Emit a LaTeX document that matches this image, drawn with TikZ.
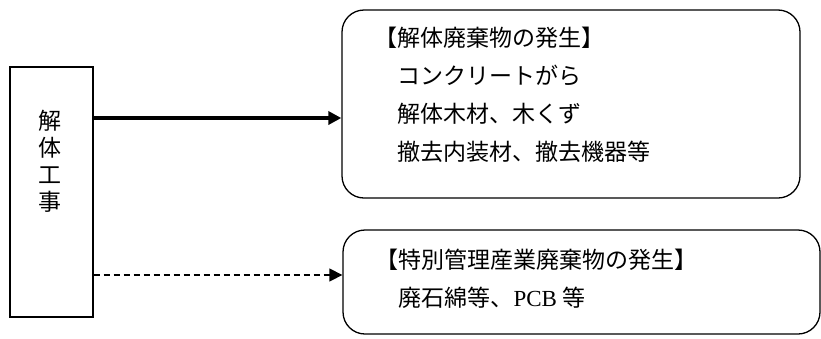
\documentclass[tikz,border=0pt]{standalone}
\usepackage{fontspec}
\setmainfont{Noto Sans CJK JP}
\newfontfamily\latinfont{Liberation Serif}
\usetikzlibrary{positioning}
\usetikzlibrary{arrows.meta}

\begin{document}
\begin{tikzpicture}[x=1pt, y=-1pt,
    stepbox/.style={draw, line width=1.3pt, rectangle, inner sep=0pt},
    wastebox/.style={draw, line width=1.3pt, rectangle, rounded corners=22pt, inner sep=0pt},
    wastetext/.style={anchor=north west, inner sep=0pt, align=left,
      font=\fontsize{23}{38}\selectfont},
    flow/.style={line width=4pt, -{Triangle[length=13pt, width=13pt]}},
    specialflow/.style={line width=1.3pt, dashed, dash pattern=on 6pt off 4pt,
      -{Triangle[length=13pt, width=13pt]}}]

    \useasboundingbox (0,0) rectangle (821,338);

    % Define nodes
    \node[stepbox, minimum width=83pt, minimum height=250pt] (kouji) at (51.5,192) {};
    \node[align=center, inner sep=0pt, font=\fontsize{23}{27}\selectfont] (koujilabel) at (50,161.5) {解\\体\\工\\事};
    \node[wastebox, minimum width=458pt, minimum height=188pt] (haiki) at (571,104) {};
    \node[wastetext, below right=17pt and 33pt of haiki.north west] (haikitext)
      {【解体廃棄物の発生】\\　コンクリートがら\\　解体木材、木くず\\　撤去内装材、撤去機器等};
    \node[wastebox, minimum width=477pt, minimum height=104pt] (tokubetsu) at (581.5,282) {};
    \node[wastetext, below right=19pt and 33pt of tokubetsu.north west] (tokubetsutext)
      {【特別管理産業廃棄物の発生】\\　廃石綿等、{\latinfont PCB} 等};

    % Connect the nodes
    \coordinate (haikistart) at ([yshift=74pt]kouji.east);
    \coordinate (tokubetsustart) at ([yshift=-83pt]kouji.east);
    \draw[flow] (haikistart) -- (haikistart -| haiki.west);
    \draw[specialflow] (tokubetsustart) -- (tokubetsustart -| tokubetsu.west);

  \end{tikzpicture}
\end{document}
